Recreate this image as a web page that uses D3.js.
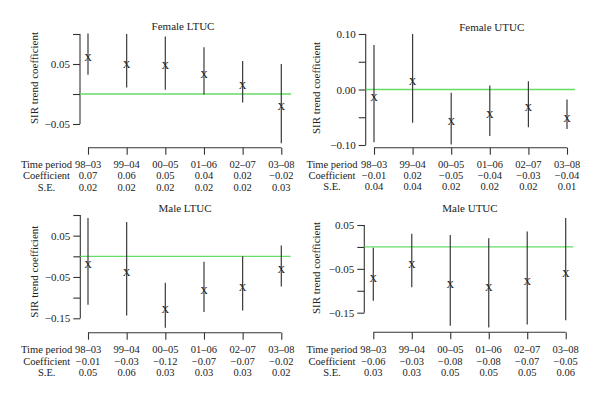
<!DOCTYPE html>
<html>
<head>
<meta charset="utf-8">
<script src="https://cdn.jsdelivr.net/npm/d3@7/dist/d3.min.js"></script>
<style>
html,body{margin:0;padding:0;background:#fff;}
svg{display:block;}
text{font-family:"Liberation Serif","DejaVu Serif",serif;fill:#222;}
</style>
</head>
<body>
<svg id="chart" width="600" height="400"></svg>
<script>
// ---------- data ----------
const periods = ["98–03","99–04","00–05","01–06","02–07","03–08"];
const rowLabels = ["Time period","Coefficient","S.E."];

const femaleLtucEst  = [0.061, 0.050, 0.047, 0.032, 0.014, -0.021];
const femaleLtucLo   = [0.032, 0.011, 0.007, -0.001, -0.014, -0.082];
const femaleLtucHi   = [0.101, 0.100, 0.096, 0.078, 0.055, 0.050];
const femaleLtucCoef = ["0.07","0.06","0.05","0.04","0.02","−0.02"];
const femaleLtucSE   = ["0.02","0.02","0.02","0.02","0.02","0.03"];

const femaleUtucEst  = [-0.014, 0.014, -0.058, -0.045, -0.033, -0.052];
const femaleUtucLo   = [-0.095, -0.060, -0.099, -0.084, -0.068, -0.071];
const femaleUtucHi   = [0.080, 0.100, -0.006, 0.007, 0.015, -0.018];
const femaleUtucCoef = ["−0.01","0.02","−0.05","−0.04","−0.03","−0.04"];
const femaleUtucSE   = ["0.04","0.04","0.02","0.02","0.02","0.01"];

const maleLtucEst  = [-0.020, -0.039, -0.129, -0.082, -0.076, -0.031];
const maleLtucLo   = [-0.117, -0.143, -0.173, -0.135, -0.131, -0.073];
const maleLtucHi   = [0.093, 0.083, -0.064, -0.013, 0.000, 0.026];
const maleLtucCoef = ["−0.01","−0.03","−0.12","−0.07","−0.07","−0.02"];
const maleLtucSE   = ["0.05","0.06","0.03","0.03","0.03","0.02"];

const maleUtucEst  = [-0.073, -0.039, -0.085, -0.093, -0.079, -0.060];
const maleUtucLo   = [-0.123, -0.092, -0.180, -0.184, -0.177, -0.167];
const maleUtucHi   = [-0.002, 0.030, 0.027, 0.020, 0.035, 0.066];
const maleUtucCoef = ["−0.06","−0.03","−0.08","−0.08","−0.07","−0.05"];
const maleUtucSE   = ["0.03","0.03","0.05","0.05","0.05","0.06"];

const femaleLtucTicks = [0.10, 0.05, 0.00, -0.05];
const femaleLtucTickLabels = ["", "0.05", "", "−0.05"];
const femaleUtucTicks = [0.10, 0.05, 0.00, -0.05, -0.10];
const femaleUtucTickLabels = ["0.10", "", "0.00", "", "−0.10"];
const maleLtucTicks = [0.10, 0.05, 0.00, -0.05, -0.10, -0.15];
const maleLtucTickLabels = ["", "0.05", "", "−0.05", "", "−0.15"];
const maleUtucTicks = [0.05, 0.00, -0.05, -0.10, -0.15];
const maleUtucTickLabels = ["0.05", "", "−0.05", "", "−0.15"];

// ---------- layout ----------
const panels = [
  {title:"Female LTUC", est:femaleLtucEst, lo:femaleLtucLo, hi:femaleLtucHi, coef:femaleLtucCoef, se:femaleLtucSE,
   ticks:femaleLtucTicks, tickLabels:femaleLtucTickLabels,
   yDom:[-0.05,0.10], yRng:[124,34], axisX:80, xRng:[88,281.3], zeroEnd:291,
   botY:147.7, rows:[164,175.5,187], rowLabelX:46.5, titleXY:[183,26], yLabXY:[34,78]},
  {title:"Female UTUC", est:femaleUtucEst, lo:femaleUtucLo, hi:femaleUtucHi, coef:femaleUtucCoef, se:femaleUtucSE,
   ticks:femaleUtucTicks, tickLabels:femaleUtucTickLabels,
   yDom:[-0.10,0.10], yRng:[145,34], axisX:365.7, xRng:[374,567], zeroEnd:575,
   botY:147.7, rows:[164,175,186.7], rowLabelX:332, titleXY:[491.7,26.5], yLabXY:[316,88]},
  {title:"Male LTUC", est:maleLtucEst, lo:maleLtucLo, hi:maleLtucHi, coef:maleLtucCoef, se:maleLtucSE,
   ticks:maleLtucTicks, tickLabels:maleLtucTickLabels,
   yDom:[-0.15,0.10], yRng:[318.3,215], axisX:80.3, xRng:[88,281.3], zeroEnd:290.7,
   botY:332.7, rows:[349,361,372.7], rowLabelX:46.7, titleXY:[185,207.7], yLabXY:[34,271.7]},
  {title:"Male UTUC", est:maleUtucEst, lo:maleUtucLo, hi:maleUtucHi, coef:maleUtucCoef, se:maleUtucSE,
   ticks:maleUtucTicks, tickLabels:maleUtucTickLabels,
   yDom:[-0.15,0.05], yRng:[312.7,225], axisX:364.3, xRng:[373.3,565.7], zeroEnd:573.3,
   botY:332.3, rows:[349.7,361.7,372.7], rowLabelX:332, titleXY:[470,207.7], yLabXY:[316,268]}
];

const svg = d3.select("#chart");
const FS = 10.5;
const axisCol = "#333";

panels.forEach(p => {
  const g = svg.append("g");
  const y = d3.scaleLinear().domain(p.yDom).range(p.yRng);
  const x = d3.scalePoint().domain(periods).range(p.xRng);

  // title
  g.append("text").attr("x", p.titleXY[0]).attr("y", p.titleXY[1])
    .attr("text-anchor","middle").attr("dominant-baseline","central")
    .style("font-size", "11px").text(p.title);

  // y axis label
  g.append("text")
    .attr("transform", `translate(${p.yLabXY[0]},${p.yLabXY[1]}) rotate(-90)`)
    .attr("text-anchor","middle").attr("dominant-baseline","central")
    .style("font-size", "11px").text("SIR trend coefficient");

  // y axis
  const yAxis = d3.axisLeft(y).tickValues(p.ticks).tickSize(7).tickPadding(3)
    .tickFormat((d,i) => p.tickLabels[i]);
  const ya = g.append("g").attr("transform", `translate(${p.axisX},0)`).call(yAxis);
  ya.select(".domain").attr("stroke", axisCol).attr("stroke-width",1.1)
    .attr("d", `M0,${y(d3.max(p.ticks))}V${y(d3.min(p.ticks))}`);
  ya.selectAll(".tick line").attr("stroke", axisCol).attr("stroke-width",1.1);
  ya.selectAll(".tick text").style("font-size", "11px").attr("fill","#222")
    .style("font-family",'"Liberation Serif","DejaVu Serif",serif');

  // zero reference line
  g.append("line").attr("x1", p.axisX).attr("x2", p.zeroEnd)
    .attr("y1", y(0)).attr("y2", y(0))
    .attr("stroke", "#66dd66").attr("stroke-width", 1.3);

  // error bars
  g.selectAll(".eb").data(periods).enter().append("line")
    .attr("x1", d => x(d)).attr("x2", d => x(d))
    .attr("y1", (d,i) => y(p.hi[i])).attr("y2", (d,i) => y(p.lo[i]))
    .attr("stroke", "#3a3a3a").attr("stroke-width", 1.2);

  // point markers "X"
  g.selectAll(".pt").data(periods).enter().append("text")
    .attr("x", d => x(d)).attr("y", (d,i) => y(p.est[i]))
    .attr("text-anchor","middle").attr("dominant-baseline","central")
    .style("font-size","10.5px").text("X");

  // bottom axis
  const xAxis = d3.axisBottom(x).tickSize(7).tickFormat("");
  const xa = g.append("g").attr("transform", `translate(0,${p.botY})`).call(xAxis);
  xa.select(".domain").attr("stroke", axisCol).attr("stroke-width",1.1)
    .attr("d", `M${p.xRng[0]},0H${p.xRng[1]}`);
  xa.selectAll(".tick line").attr("stroke", axisCol).attr("stroke-width",1.1);

  // table rows
  const rowsData = [periods, p.coef, p.se];
  rowLabels.forEach((lab, r) => {
    g.append("text").attr("x", p.rowLabelX).attr("y", p.rows[r])
      .attr("text-anchor","middle").attr("dominant-baseline","central")
      .style("font-size", FS+"px").text(lab);
    g.selectAll(".row"+r).data(rowsData[r]).enter().append("text")
      .attr("x", (d,i) => x(periods[i])).attr("y", p.rows[r])
      .attr("text-anchor","middle").attr("dominant-baseline","central")
      .style("font-size", FS+"px").text(d => d);
  });
});
</script>
</body>
</html>
